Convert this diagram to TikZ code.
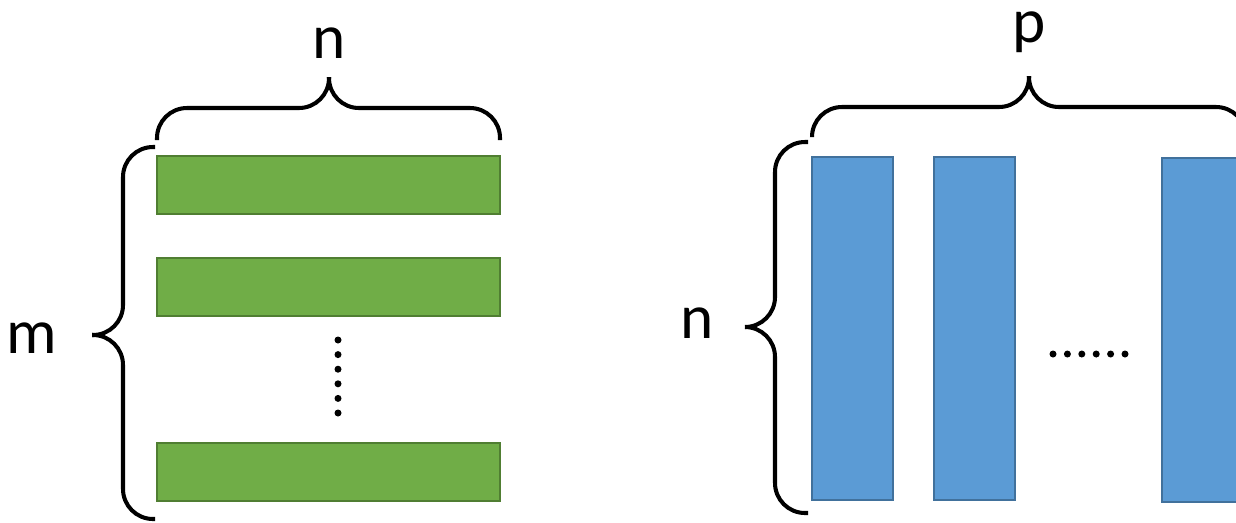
\documentclass[tikz,border=0pt]{standalone}
\usepackage{fontspec}
\setmainfont{Carlito}
\usepackage{tikz}

\definecolor{barGreen}{HTML}{70AD47}
\definecolor{barGreenEdge}{HTML}{507E32}
\definecolor{barBlue}{HTML}{5B9BD5}
\definecolor{barBlueEdge}{HTML}{41719C}

\tikzset{
    greenbar/.style={fill=barGreen,draw=barGreenEdge,line width=1.2pt},
    bluebar/.style={fill=barBlue,draw=barBlueEdge,line width=1.2pt},
    brace/.style={line width=2.3pt,rounded corners=0.6cm},
    lbl/.style={anchor=base,inner sep=0pt,font=\fontsize{36}{43}\selectfont}
}

\begin{document}
\begin{tikzpicture}[x=0.02cm,y=-0.02cm]
    \useasboundingbox (0,0) rectangle (1236,522);
    % m x n : rows
    \draw[greenbar] (157,156) rectangle (500,214);
    \draw[greenbar] (157,258) rectangle (500,316);
    \draw[greenbar] (157,443) rectangle (500,501);
    \foreach \k in {0,...,5}
        \fill (338,340+14.6*\k) circle (3.5);
    \draw[brace] (157,140) |- (329,108) -- (329,77);
    \draw[brace] (329,77) -- (329,108) -| (500,140);
    \node[lbl] (nTop) at (329,58) {n};
    \draw[brace] (155,147) -| (123,335) -- (92,335);
    \draw[brace] (92,335) -- (123,335) |- (155,519);
    \node[lbl] (mLeft) at (32,353) {m};
    % n x p : columns
    \draw[bluebar] (812,157) rectangle (893,500);
    \draw[bluebar] (934,157) rectangle (1015,500);
    \draw[bluebar] (1162,158) rectangle (1245,502);
    \foreach \k in {0,...,5}
        \fill (1053+14.4*\k,354) circle (3.5);
    \draw[brace] (812,137) |- (1029,107) -- (1029,76);
    \draw[brace] (1029,76) -- (1029,107) -| (1246,137);
    \node[lbl] (pTop) at (1029,42) {p};
    \draw[brace] (808,142) -| (775,327) -- (745,327);
    \draw[brace] (745,327) -- (775,327) |- (808,513);
    \node[lbl] (nLeft) at (697,338) {n};
\end{tikzpicture}
\end{document}
